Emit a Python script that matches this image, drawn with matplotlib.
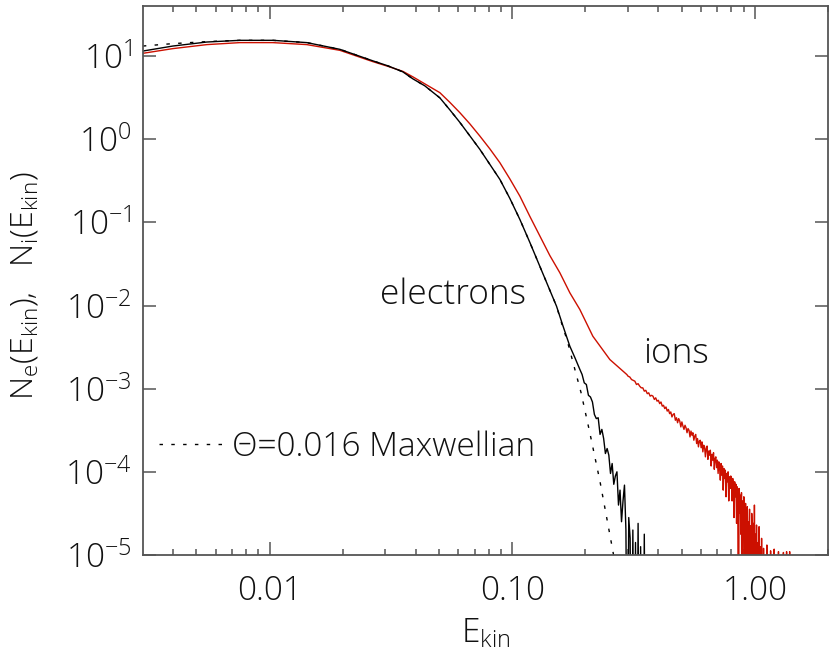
import numpy as np
import matplotlib
matplotlib.use("Agg")
import matplotlib.pyplot as plt
from matplotlib.ticker import FixedLocator, FuncFormatter, NullFormatter

plt.rcParams['font.family'] = ['Open Sans', 'DejaVu Sans']
plt.rcParams['font.weight'] = 'light'
plt.rcParams['mathtext.fontset'] = 'custom'
plt.rcParams['mathtext.rm'] = 'Open Sans:light'
plt.rcParams['mathtext.it'] = 'Open Sans:light'
plt.rcParams['mathtext.default'] = 'regular'

# ---- data ----
# smooth part of the electron spectrum
e_x = [0.003005, 0.003995, 0.005515, 0.007544, 0.01032, 0.01425, 0.01949, 0.02664,
       0.03073, 0.03541, 0.03895, 0.04363, 0.05031, 0.05532, 0.06083, 0.06689,
       0.07355, 0.08087, 0.08892, 0.09775, 0.1075, 0.1182, 0.1300, 0.1402,
       0.1522, 0.1616, 0.1727, 0.1811]
e_y = [11.48, 13.19, 14.74, 15.45, 15.45, 14.50, 12.04, 8.755,
       7.624, 6.454, 5.317, 4.379, 3.141, 2.252, 1.593, 1.096,
       0.7538, 0.4975, 0.3283, 0.1939, 0.1083, 0.05728, 0.02946, 0.01740,
       0.009808, 0.005744, 0.003237, 0.002367]
# noisy electron tail, log10 values, bins 0.190 ... 0.358 (-7 = empty bin)
e_tail = [-2.77, -2.83, -2.93, -2.95, -3.08, -3.10, -3.16, -3.31, -3.36, -3.35,
          -3.55, -3.49, -3.60, -3.78, -3.72, -3.80, -4.02, -3.90, -4.15, -4.05,
          -4.00, -4.40, -4.22, -4.60, -4.35, -4.16, -4.70, -7, -4.55, -4.80,
          -7, -4.70, -7, -4.85, -7, -4.62, -7, -4.90, -7, -7,
          -4.75, -7, -7]

# smooth part of the ion spectrum
i_x = [0.003005, 0.003995, 0.005515, 0.007544, 0.01032, 0.01425, 0.01949, 0.02664,
       0.03073, 0.03541, 0.03895, 0.04363, 0.05031, 0.05532, 0.06083, 0.06689,
       0.07355, 0.08087, 0.08892, 0.09775, 0.1075, 0.1182, 0.1300, 0.1428,
       0.1571, 0.1727, 0.1899, 0.2148, 0.2524, 0.2966]
i_y = [10.78, 12.28, 13.72, 14.50, 14.50, 13.72, 11.71, 8.563,
       7.519, 6.545, 5.620, 4.629, 3.627, 2.773, 2.084, 1.528,
       1.090, 0.7643, 0.5216, 0.3330, 0.2066, 0.1178, 0.06823, 0.03996,
       0.02474, 0.01422, 0.008950, 0.004272, 0.002240, 0.001478]
# noisy ion tail, log10 values, bins 0.300 ... 1.460 every 0.005 (-7 = empty bin)
i_tail = [
    -2.85, -2.86, -2.89, -2.90, -2.91, -2.95, -2.94, -2.97, -2.99, -2.99,
    -3.03, -3.02, -3.06, -3.05, -3.09, -3.08, -3.09, -3.13, -3.11, -3.15,
    -3.14, -3.18, -3.16, -3.21, -3.20, -3.24, -3.22, -3.27, -3.25, -3.30,
    -3.28, -3.34, -3.31, -3.30, -3.38, -3.35, -3.41, -3.36, -3.39, -3.46,
    -3.40, -3.45, -3.49, -3.44, -3.47, -3.53, -3.48, -3.50, -3.58, -3.51,
    -3.56, -3.53, -3.62, -3.57, -3.55, -3.66, -3.60, -3.70, -3.63, -3.62,
    -3.71, -3.64, -3.76, -3.68, -3.70, -3.82, -3.72, -3.69, -3.85, -3.75,
    -3.80, -3.74, -3.93, -3.79, -3.86, -3.77, -3.97, -3.84, -3.82, -3.95,
    -3.86, -4.02, -3.88, -3.95, -4.10, -3.90, -4.04, -3.93, -4.22, -3.96,
    -4.08, -3.98, -4.30, -4.02, -4.12, -4.00, -4.35, -4.06, -4.20, -4.05,
    -4.10, -4.35, -4.08, -4.20, -4.55, -4.12, -4.30, -4.15, -4.62, -4.18,
    -4.40, -7, -4.20, -4.50, -4.28, -4.75, -4.25, -7, -4.35, -4.60,
    -4.30, -7, -4.55, -4.38, -7, -4.70, -4.42, -7, -4.60, -4.85,
    -4.45, -7, -4.65, -7, -4.50, -4.80, -7, -4.62, -7, -4.40,
    -7, -4.75, -7, -4.64, -7, -7, -4.85, -7, -4.66, -7,
    -7, -4.90, -7, -4.80, -7, -7, -7, -4.92, -7, -7,
    -7, -7, -7, -7, -4.88, -7, -7, -7, -7, -7,
    -7, -7, -4.95, -7, -7, -7, -7, -7, -7, -7,
    -4.93, -7, -7, -7, -7, -7, -7, -7, -7, -7,
    -4.96, -7, -7, -7, -7, -7, -7, -7, -7, -7,
    -7, -7, -4.97, -7, -7, -7, -7, -7, -7, -7,
    -4.96, -7, -7, -7, -7, -7, -7, -7, -4.96, -7,
    -7, -7, -7, -7, -7, -7, -7, -7, -7, -7,
    -7, -7, -7]

# Theta = 0.016 Maxwellian
m_x = [0.003005, 0.003995, 0.005515, 0.007544, 0.01032, 0.01425, 0.01949, 0.02664,
       0.03073, 0.03541, 0.03895, 0.04363, 0.05031, 0.05532, 0.06083, 0.06689,
       0.07355, 0.08087, 0.08892, 0.09775, 0.1075, 0.1182, 0.1300, 0.1402,
       0.1522, 0.1616, 0.168, 0.192, 0.209, 0.230, 0.260, 0.275]
m_y = [13.19, 14.10, 14.91, 15.45, 15.45, 14.50, 12.04, 8.755,
       7.624, 6.454, 5.317, 4.379, 3.141, 2.252, 1.593, 1.096,
       0.7538, 0.4975, 0.3283, 0.1939, 0.1083, 0.05728, 0.02946, 0.01740,
       0.009808, 0.00547, 0.0039, 9.0e-4, 2.9e-4, 7.6e-5, 1.1e-5, 4e-6]

x_ticks = [0.01, 0.1, 1.0]
x_ticklabels = ['0.01', '0.10', '1.00']
y_ticks = [1e-5, 1e-4, 1e-3, 1e-2, 1e-1, 1e0, 1e1]

# ---- assemble ----
ex = np.concatenate([e_x, np.linspace(0.190, 0.358, len(e_tail))])
ey = np.concatenate([e_y, 10.0 ** np.array(e_tail)])
ix = np.concatenate([i_x, np.linspace(0.30, 0.30 + 0.005 * (len(i_tail) - 1), len(i_tail))])
iy = np.concatenate([i_y, 10.0 ** np.array(i_tail)])

fig = plt.figure(figsize=(8.3, 6.56), dpi=100)
ax = fig.add_axes([0.1723, 0.154, 0.8253, 0.8369])

ax.plot(ix, iy, color='#cc1000', lw=1.0)
ax.plot(ex, ey, color='black', lw=1.0)
ax.plot(m_x, m_y, color='black', lw=1.0, linestyle=(0, (2.5, 6)),
        label='\u0398=0.016 Maxwellian')

ax.set_xscale('log')
ax.set_yscale('log')
ax.set_xlim(0.00301, 2.0)
ax.set_ylim(1e-5, 40)

txtc = '#111111'
gray = '#555555'
for s in ax.spines.values():
    s.set_color(gray)
    s.set_linewidth(1.3)

ax.xaxis.set_major_locator(FixedLocator(x_ticks))
ax.xaxis.set_major_formatter(FuncFormatter(lambda v, p: x_ticklabels[x_ticks.index(v)] if v in x_ticks else ''))
ax.xaxis.set_minor_formatter(NullFormatter())
ax.yaxis.set_major_locator(FixedLocator(y_ticks))
ax.yaxis.set_minor_locator(FixedLocator([]))
ax.yaxis.set_major_formatter(FuncFormatter(lambda v, p: r'$10^{%d}$' % int(round(np.log10(v)))))

ax.tick_params(which='both', direction='in', top=True, right=True, colors=gray,
               labelcolor=txtc, labelsize=24)
ax.tick_params(which='major', length=9.5, width=1.1)
ax.tick_params(which='minor', length=4.5, width=1.1)
ax.tick_params(axis='x', pad=14)
ax.tick_params(axis='y', pad=8)

ax.set_xlabel(r'$\mathrm{E_{kin}}$', fontsize=24, color=txtc)
ax.set_ylabel(r'$\mathrm{N_e(E_{kin}),\ \ N_i(E_{kin})}$', fontsize=23, color=txtc)
ax.xaxis.set_label_coords(0.5, -0.113)
ax.yaxis.set_label_coords(-0.149, 0.49)

ax.text(0.0285, 0.0103, 'electrons', fontsize=25.5, color=txtc, ha='left', va='baseline')
ax.text(0.345, 2.06e-3, 'ions', fontsize=25.5, color=txtc, ha='left', va='baseline')

leg = ax.legend(loc='center left', bbox_to_anchor=(0.0234, 0.197), frameon=False,
                fontsize=24, handlelength=1.9, handletextpad=0.3,
                borderpad=0, borderaxespad=0, labelcolor=txtc)

fig.savefig('out.png', dpi=100)
